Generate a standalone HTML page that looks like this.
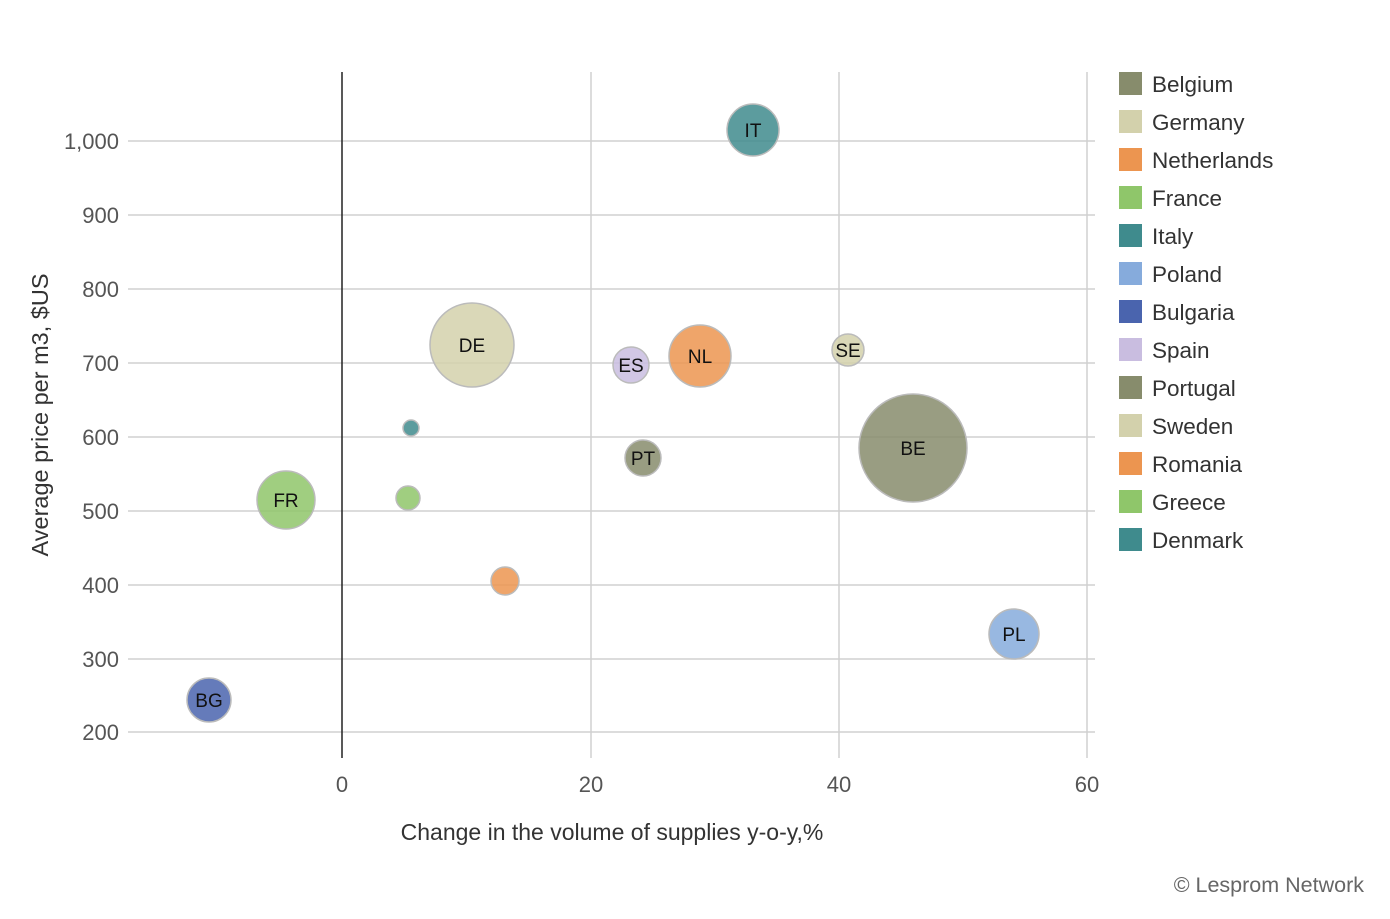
<!DOCTYPE html>
<html><head><meta charset="utf-8"><style>
body{margin:0;background:#fff;}
svg{display:block;font-family:"Liberation Sans",Arial,sans-serif;}
</style></head><body>
<svg width="1390" height="919" viewBox="0 0 1390 919">
<g stroke="#d0d0d0" stroke-width="1.5">
<line x1="128" y1="141" x2="1095" y2="141"/>
<line x1="128" y1="215" x2="1095" y2="215"/>
<line x1="128" y1="289" x2="1095" y2="289"/>
<line x1="128" y1="363" x2="1095" y2="363"/>
<line x1="128" y1="437" x2="1095" y2="437"/>
<line x1="128" y1="511" x2="1095" y2="511"/>
<line x1="128" y1="585" x2="1095" y2="585"/>
<line x1="128" y1="659" x2="1095" y2="659"/>
<line x1="128" y1="732" x2="1095" y2="732"/>
<line x1="591" y1="72" x2="591" y2="758"/>
<line x1="839" y1="72" x2="839" y2="758"/>
<line x1="1087" y1="72" x2="1087" y2="758"/>
</g>
<line x1="342" y1="72" x2="342" y2="758" stroke="#222" stroke-width="1.5"/>
<g font-size="22" fill="#555" text-anchor="end">
<text x="119" y="149">1,000</text><text x="119" y="223">900</text><text x="119" y="297">800</text>
<text x="119" y="371">700</text><text x="119" y="445">600</text><text x="119" y="519">500</text>
<text x="119" y="593">400</text><text x="119" y="667">300</text><text x="119" y="740">200</text>
</g>
<g font-size="22" fill="#555" text-anchor="middle">
<text x="342" y="792">0</text><text x="591" y="792">20</text><text x="839" y="792">40</text><text x="1087" y="792">60</text>
</g>
<text x="612" y="840" font-size="23" fill="#333" text-anchor="middle">Change in the volume of supplies y-o-y,%</text>
<text transform="translate(48,415) rotate(-90)" font-size="23.5" fill="#333" text-anchor="middle">Average price per m3, $US</text>
<g stroke="#bbb" stroke-width="1.5" fill-opacity="0.85">
<circle cx="913" cy="448" r="54" fill="#878c6c"/>
<circle cx="472" cy="345" r="42" fill="#d3d1ac"/>
<circle cx="753" cy="130" r="26" fill="#3f8b8d"/>
<circle cx="700" cy="356" r="31" fill="#ec9550"/>
<circle cx="631" cy="365" r="18" fill="#c9bde0"/>
<circle cx="848" cy="350" r="16" fill="#d3d1ac"/>
<circle cx="411" cy="428" r="8" fill="#3f8b8d"/>
<circle cx="643" cy="458" r="18" fill="#878c6c"/>
<circle cx="286" cy="500" r="29" fill="#8fc66a"/>
<circle cx="408" cy="498" r="12" fill="#8fc66a"/>
<circle cx="505" cy="581" r="14" fill="#ec9550"/>
<circle cx="1014" cy="634" r="25" fill="#86abdc"/>
<circle cx="209" cy="700" r="22" fill="#4a64ae"/>
</g>
<g font-size="19" fill="#111" text-anchor="middle">
<text x="913" y="455">BE</text><text x="472" y="352">DE</text><text x="753" y="137">IT</text>
<text x="700" y="363">NL</text><text x="631" y="372">ES</text><text x="848" y="357">SE</text>
<text x="643" y="465">PT</text><text x="286" y="507">FR</text><text x="1014" y="641">PL</text>
<text x="209" y="707">BG</text>
</g>
<g font-size="22.5" fill="#333">
<rect x="1119" y="72" width="23" height="23" fill="#878c6c"/><text x="1152" y="92">Belgium</text>
<rect x="1119" y="110" width="23" height="23" fill="#d3d1ac"/><text x="1152" y="130">Germany</text>
<rect x="1119" y="148" width="23" height="23" fill="#ec9550"/><text x="1152" y="168">Netherlands</text>
<rect x="1119" y="186" width="23" height="23" fill="#8fc66a"/><text x="1152" y="206">France</text>
<rect x="1119" y="224" width="23" height="23" fill="#3f8b8d"/><text x="1152" y="244">Italy</text>
<rect x="1119" y="262" width="23" height="23" fill="#86abdc"/><text x="1152" y="282">Poland</text>
<rect x="1119" y="300" width="23" height="23" fill="#4a64ae"/><text x="1152" y="320">Bulgaria</text>
<rect x="1119" y="338" width="23" height="23" fill="#c9bde0"/><text x="1152" y="358">Spain</text>
<rect x="1119" y="376" width="23" height="23" fill="#878c6c"/><text x="1152" y="396">Portugal</text>
<rect x="1119" y="414" width="23" height="23" fill="#d3d1ac"/><text x="1152" y="434">Sweden</text>
<rect x="1119" y="452" width="23" height="23" fill="#ec9550"/><text x="1152" y="472">Romania</text>
<rect x="1119" y="490" width="23" height="23" fill="#8fc66a"/><text x="1152" y="510">Greece</text>
<rect x="1119" y="528" width="23" height="23" fill="#3f8b8d"/><text x="1152" y="548">Denmark</text>
</g>
<text x="1364" y="892" font-size="21.5" fill="#666" text-anchor="end">© Lesprom Network</text>
</svg>
</body></html>
